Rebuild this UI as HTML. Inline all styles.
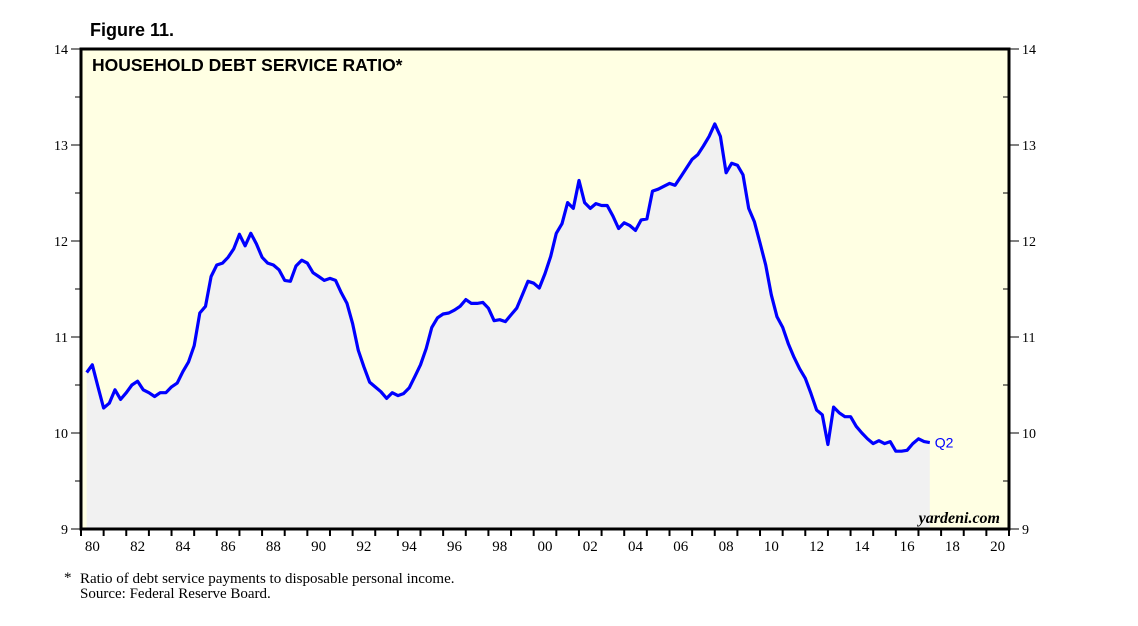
<!DOCTYPE html>
<html><head><meta charset="utf-8"><style>
body{margin:0;background:#fff;}
svg text{font-family:"Liberation Serif",serif;}
</style></head><body>
<svg id="chart" width="1138" height="621" viewBox="0 0 1138 621" xmlns="http://www.w3.org/2000/svg">
<text x="90" y="36" style="font-family:'Liberation Sans',sans-serif" font-weight="bold" font-size="18">Figure 11.</text>
<rect x="81" y="49" width="928" height="480" fill="#ffffe3"/>
<g id="marks"></g>
<g id="axes"></g>
<text x="92" y="71" style="font-family:'Liberation Sans',sans-serif" font-weight="bold" font-size="17.5">HOUSEHOLD DEBT SERVICE RATIO*</text>
<text x="1000" y="523" text-anchor="end" font-style="italic" font-weight="bold" font-size="16">yardeni.com</text>
<text x="64" y="582" font-size="15">*</text>
<text x="80" y="583" font-size="15">Ratio of debt service payments to disposable personal income.</text>
<text x="80" y="598" font-size="15">Source: Federal Reserve Board.</text>
</svg>
<script>
const startYear = 1980;
const values = [10.63,10.71,10.48,10.26,10.31,10.45,10.35,10.42,10.50,10.54,
10.45,10.42,10.38,10.42,10.42,10.48,10.52,10.64,10.74,10.91,
11.25,11.32,11.63,11.75,11.77,11.83,11.92,12.07,11.95,12.08,
11.97,11.83,11.77,11.75,11.70,11.59,11.58,11.74,11.80,11.77,
11.67,11.63,11.59,11.61,11.59,11.46,11.35,11.14,10.86,10.69,
10.53,10.48,10.43,10.36,10.42,10.39,10.41,10.47,10.59,10.71,
10.88,11.10,11.20,11.24,11.25,11.28,11.32,11.39,11.35,11.35,
11.36,11.30,11.17,11.18,11.16,11.23,11.30,11.44,11.58,11.56,
11.51,11.66,11.84,12.08,12.18,12.40,12.34,12.63,12.40,12.34,
12.39,12.37,12.37,12.26,12.13,12.19,12.16,12.11,12.22,12.23,
12.52,12.54,12.57,12.60,12.58,12.67,12.76,12.85,12.90,12.99,
13.09,13.22,13.09,12.71,12.81,12.79,12.69,12.34,12.20,11.98,
11.75,11.44,11.21,11.10,10.93,10.79,10.67,10.57,10.41,10.24,
10.19,9.88,10.27,10.21,10.17,10.17,10.07,10.00,9.94,9.89,
9.92,9.89,9.91,9.81,9.81,9.82,9.89,9.94,9.91,9.90];
const yTicks = [9,10,11,12,13,14];
const xLabels = ["80","82","84","86","88","90","92","94","96","98","00","02","04","06","08","10","12","14","16","18","20"];
const lastLabel = "Q2";

const NS="http://www.w3.org/2000/svg";
const X0=81,X1=1009,Y0=529,Y1=49,YR0=1980,YR1=2021,V0=9,V1=14;
const xs=t=>X0+(t-YR0)/(YR1-YR0)*(X1-X0);
const ys=v=>Y0-(v-V0)/(V1-V0)*(Y0-Y1);
function mk(tag,attrs,parent){const e=document.createElementNS(NS,tag);for(const k in attrs)e.setAttribute(k,attrs[k]);parent.appendChild(e);return e;}
const marks=document.getElementById('marks'),axes=document.getElementById('axes');
const pts=values.map((v,i)=>[xs(startYear+(i+1)/4),ys(v)]);
let d=pts.map((p,i)=>(i?'L':'M')+p[0].toFixed(1)+' '+p[1].toFixed(1)).join(' ');
const area=mk('path',{d:d+` L${pts[pts.length-1][0].toFixed(1)} ${Y0} L${pts[0][0].toFixed(1)} ${Y0} Z`,fill:'#f1f1f1'},marks);


const line=mk('path',{d:d,fill:'none',stroke:'#0000ff','stroke-width':3.2,'stroke-linejoin':'round'},marks);


const lp=pts[pts.length-1];
const q=mk('text',{x:lp[0]+5,y:lp[1]+5,fill:'#0000ff','font-size':14,style:"font-family:'Liberation Sans',sans-serif"},marks);q.textContent=lastLabel;


const fr=mk('rect',{x:X0,y:Y1,width:X1-X0,height:Y0-Y1,fill:'none',stroke:'#000','stroke-width':3},axes);


yTicks.forEach(v=>{
  const y=ys(v);
  mk('line',{x1:X0-10,x2:X0,y1:y,y2:y,stroke:'#000','stroke-width':1},axes);
  mk('line',{x1:X1,x2:X1+10,y1:y,y2:y,stroke:'#000','stroke-width':1},axes);
  const l=mk('text',{x:X0-13,y:y+5,'text-anchor':'end','font-size':14},axes);l.textContent=v;
  
  
  const r=mk('text',{x:X1+13,y:y+5,'font-size':14},axes);r.textContent=v;
  
  
  if(v<V1){const h=ys(v+0.5);
    mk('line',{x1:X0-6,x2:X0,y1:h,y2:h,stroke:'#000','stroke-width':1},axes);
    mk('line',{x1:X1-6,x2:X1,y1:h,y2:h,stroke:'#000','stroke-width':1},axes);}
});
for(let yr=YR0;yr<=YR1;yr++){const x=xs(yr);mk('line',{x1:x,x2:x,y1:Y0,y2:Y0+7,stroke:'#000','stroke-width':2},axes);}
xLabels.forEach((s,i)=>{
  const t=mk('text',{x:xs(YR0+2*i+0.5),y:Y0+22,'text-anchor':'middle','font-size':15},axes);t.textContent=s;
  
  
});
</script>
</body></html>
